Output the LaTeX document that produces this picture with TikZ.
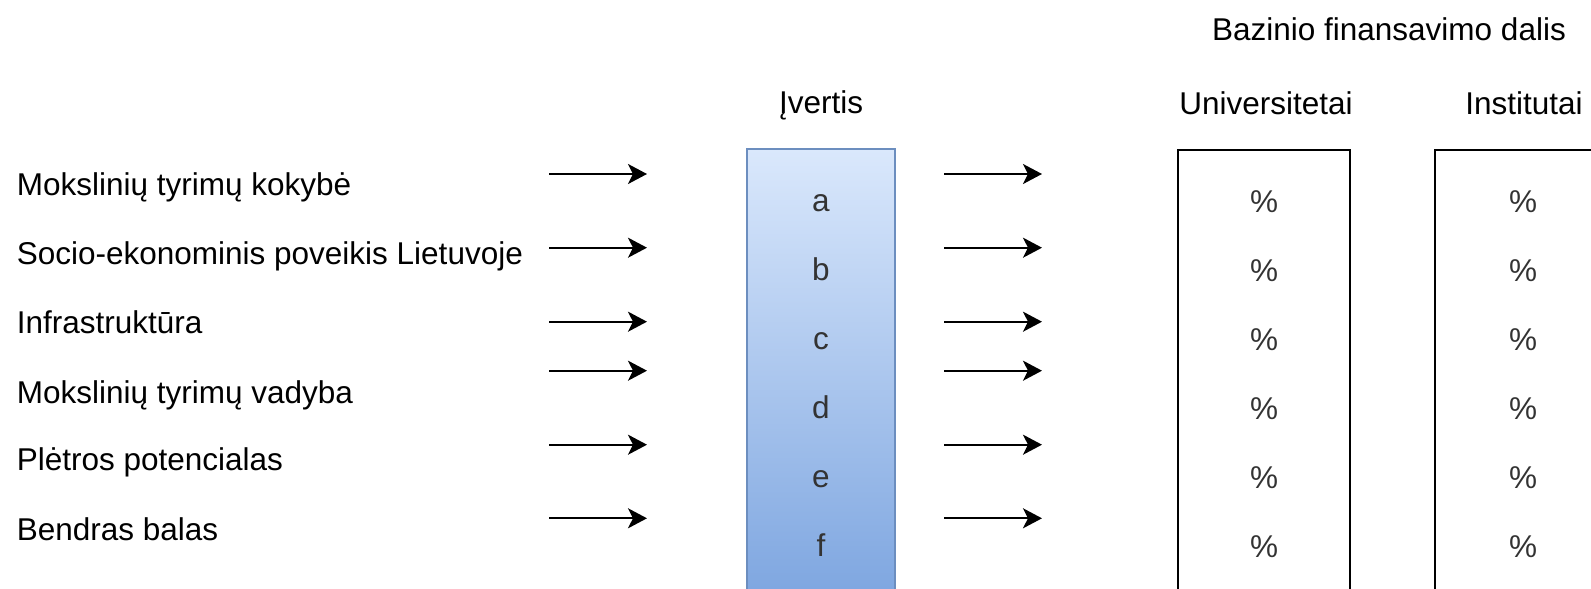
\documentclass[tikz,border=0pt]{standalone}
\usepackage{fontspec}
\setmainfont{Liberation Sans}
\usetikzlibrary{arrows.meta}
\definecolor{vtop}{HTML}{DAE8FC}
\definecolor{vbot}{HTML}{7EA6E0}
\definecolor{vline}{HTML}{6C8EBF}
\definecolor{celltxt}{HTML}{333333}
\tikzset{
  lbl/.style={anchor=base west,inner sep=0.75pt,font=\fontsize{15.75}{18}\selectfont},
  hdr/.style={anchor=base,inner sep=0.75pt,font=\fontsize{15.75}{18}\selectfont},
  cell/.style={anchor=base,inner sep=0.75pt,text=celltxt,font=\fontsize{15.75}{18}\selectfont},
  arr/.style={line width=1.1pt,-{Stealth[length=9.5pt,width=10pt,inset=2.5pt]}}
}
\begin{document}
\begin{tikzpicture}[x=0.5pt,y=0.5pt,yscale=-1,xscale=1]
\path[use as bounding box] (0,0) rectangle (1591,589);
\clip (0,0) rectangle (1591,589);

%Shape: Rectangle
\draw [draw=vline,line width=0.75pt,top color=vtop,bottom color=vbot] (747,149) rectangle (895,596) ;
%Shape: Rectangle
\draw [line width=1pt] (1177.5,149.5) rectangle (1350,640) ;
%Shape: Rectangle
\draw [line width=1pt] (1435,149.5) rectangle (1640,640) ;

% Text Node
\node [hdr] (title) at (1389,40) {Bazinio finansavimo dalis};
% Text Node
\node [hdr] (ivertis) at (821,113.5) {Įvertis};
% Text Node
\node [hdr] (univ) at (1266,114) {Universitetai};
% Text Node
\node [hdr] (inst) at (1524,114) {Institutai};

% Text Node
\node [lbl] (kokybe) at (15,195) {Mokslinių tyrimų kokybė};
% Text Node
\node [lbl] (poveikis) at (15,264) {Socio-ekonominis poveikis Lietuvoje};
% Text Node
\node [lbl] (infra) at (15,333) {Infrastruktūra};
% Text Node
\node [lbl] (vadyba) at (15,403) {Mokslinių tyrimų vadyba};
% Text Node
\node [lbl] (pletra) at (15,470) {Plėtros potencialas};
% Text Node
\node [lbl] (balas) at (15,540) {Bendras balas};

% Text Node
\node [cell] (va) at (821,211.7) {a};
\node [cell] (vb) at (821,280.7) {b};
\node [cell] (vc) at (821,349.7) {c};
\node [cell] (vd) at (821,418.7) {d};
\node [cell] (ve) at (821,487.7) {e};
\node [cell] (vf) at (821,556.7) {f};

% Text Node
\node [cell] (ua) at (1264,212) {\%};
\node [cell] (ub) at (1264,281) {\%};
\node [cell] (uc) at (1264,350) {\%};
\node [cell] (ud) at (1264,419) {\%};
\node [cell] (ue) at (1264,488) {\%};
\node [cell] (uf) at (1264,557) {\%};

% Text Node
\node [cell] (ia) at (1523,212) {\%};
\node [cell] (ib) at (1523,281) {\%};
\node [cell] (ic) at (1523,350) {\%};
\node [cell] (id) at (1523,419) {\%};
\node [cell] (ie) at (1523,488) {\%};
\node [cell] (if) at (1523,557) {\%};

% arrow ends
\coordinate (inA) at (549,174);   \coordinate (inA') at (647,174);
\coordinate (inB) at (549,247.7); \coordinate (inB') at (647,247.7);
\coordinate (inC) at (549,321.7); \coordinate (inC') at (647,321.7);
\coordinate (inD) at (549,370.7); \coordinate (inD') at (647,370.7);
\coordinate (inE) at (549,444.7); \coordinate (inE') at (647,444.7);
\coordinate (inF) at (549,518.3); \coordinate (inF') at (647,518.3);
\coordinate (outA) at (944,174);   \coordinate (outA') at (1042,174);
\coordinate (outB) at (944,247.7); \coordinate (outB') at (1042,247.7);
\coordinate (outC) at (944,321.7); \coordinate (outC') at (1042,321.7);
\coordinate (outD) at (944,370.7); \coordinate (outD') at (1042,370.7);
\coordinate (outE) at (944,444.7); \coordinate (outE') at (1042,444.7);
\coordinate (outF) at (944,518.3); \coordinate (outF') at (1042,518.3);

%Straight Lines
\draw [arr] (inA) -- (inA') ;
\draw [arr] (inB) -- (inB') ;
\draw [arr] (inC) -- (inC') ;
\draw [arr] (inD) -- (inD') ;
\draw [arr] (inE) -- (inE') ;
\draw [arr] (inF) -- (inF') ;
%Straight Lines
\draw [arr] (outA) -- (outA') ;
\draw [arr] (outB) -- (outB') ;
\draw [arr] (outC) -- (outC') ;
\draw [arr] (outD) -- (outD') ;
\draw [arr] (outE) -- (outE') ;
\draw [arr] (outF) -- (outF') ;

\end{tikzpicture}
\end{document}
